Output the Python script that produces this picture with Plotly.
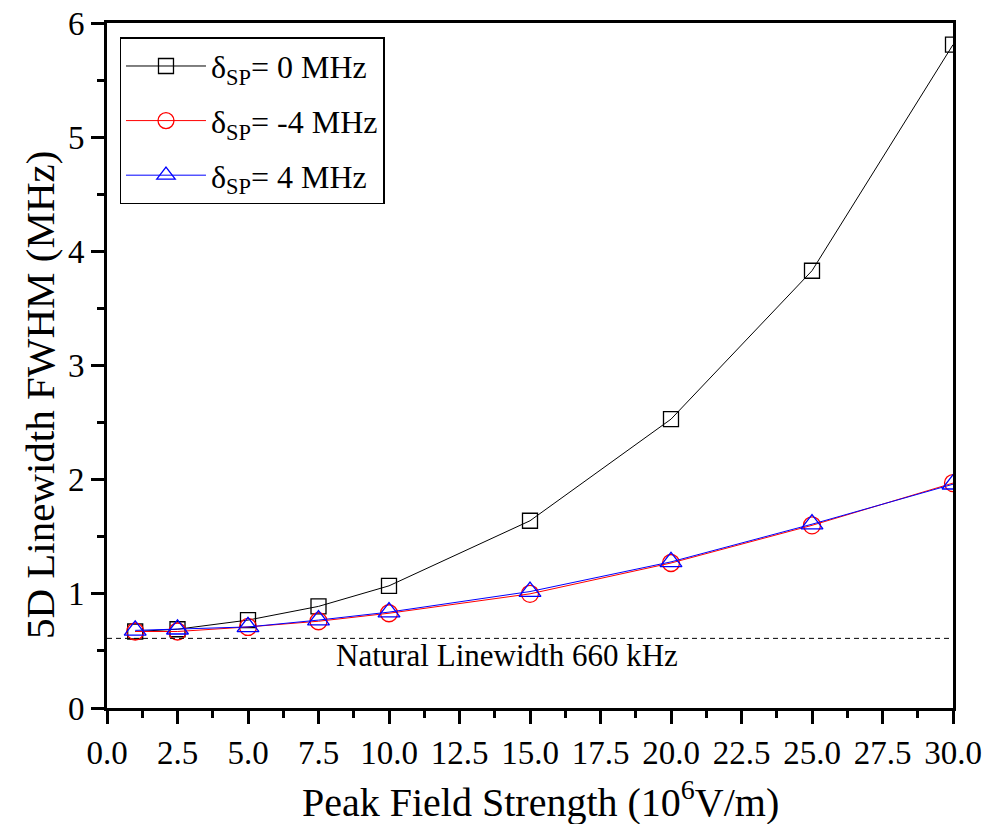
import plotly.graph_objects as go

field = [1, 2.5, 5, 7.5, 10, 15, 20, 25, 30]
fwhm_0 = [0.67, 0.69, 0.77, 0.89, 1.07, 1.64, 2.53, 3.83, 5.81]
fwhm_m4 = [0.67, 0.67, 0.71, 0.76, 0.83, 1.00, 1.27, 1.60, 1.97]
fwhm_p4 = [0.68, 0.69, 0.71, 0.77, 0.84, 1.02, 1.28, 1.61, 1.96]
natural_lw = 0.61

FONT = "Liberation Serif"

fig = go.Figure()
series = [
    ("δ<sub>SP</sub>= 0 MHz", fwhm_0, "black", "square-open", 15),
    ("δ<sub>SP</sub>= -4 MHz", fwhm_m4, "red", "circle-open", 17),
    ("δ<sub>SP</sub>= 4 MHz", fwhm_p4, "blue", "triangle-up-open", 19),
]
for i, (name, ys, col, sym, sz) in enumerate(series):
    fig.add_trace(go.Scatter(
        x=field, y=ys, name=name, mode="lines+markers", legendgroup=f"g{i}",
        line=dict(color=col, width=1),
        marker=dict(symbol=sym, size=sz, color=col, line=dict(color=col, width=1.3)),
    ))

fig.add_shape(type="line", x0=0, x1=30, y0=natural_lw, y1=natural_lw,
              xref="x", yref="y", line=dict(color="black", width=1, dash="5px,4px"))
fig.add_annotation(x=14.2, y=0.46, xref="x", yref="y", text="Natural Linewidth 660 kHz",
                   showarrow=False, font=dict(family=FONT, size=31, color="black"))

# axis titles
fig.add_annotation(x=0.512, y=-0.134, xref="paper", yref="paper", xanchor="center", yanchor="middle",
                   text="Peak Field Strength (10<sup>6</sup>V/m)", showarrow=False,
                   font=dict(family=FONT, size=40, color="black"))
fig.add_annotation(x=-0.079, y=0.457, xref="paper", yref="paper", xanchor="center", yanchor="middle",
                   text="5D Linewidth FWHM (MHz)", textangle=-90, showarrow=False,
                   font=dict(family=FONT, size=41, color="black"))

fig.update_layout(
    width=988, height=824,
    margin=dict(l=107, r=35, t=23, b=116),
    paper_bgcolor="white", plot_bgcolor="white",
    font=dict(family=FONT, color="black", size=31),
    showlegend=True,
    legend=dict(x=0.015, y=0.979, xanchor="left", yanchor="top",
                bgcolor="white", bordercolor="black", borderwidth=1.3,
                font=dict(family=FONT, size=32), itemwidth=80,
                tracegroupgap=10),
)
fig.update_xaxes(
    range=[0, 30], dtick=2.5, tick0=0, tickformat=".1f", automargin=False,
    showline=True, linecolor="black", linewidth=3, mirror=True,
    ticks="outside", ticklen=13, tickwidth=2.5, tickcolor="black",
    minor=dict(ticks="outside", ticklen=7, tickwidth=2.5, tickcolor="black", dtick=1.25, showgrid=False),
    showgrid=False, zeroline=False,
    tickfont=dict(family=FONT, size=33),
)
fig.update_yaxes(
    range=[0, 6], dtick=1, tick0=0, automargin=False,
    showline=True, linecolor="black", linewidth=3, mirror=True,
    ticks="outside", ticklen=13, tickwidth=2.5, tickcolor="black",
    minor=dict(ticks="outside", ticklen=7, tickwidth=2.5, tickcolor="black", dtick=0.5, showgrid=False),
    showgrid=False, zeroline=False,
    tickfont=dict(family=FONT, size=33),
)

fig.write_html("out.html")
